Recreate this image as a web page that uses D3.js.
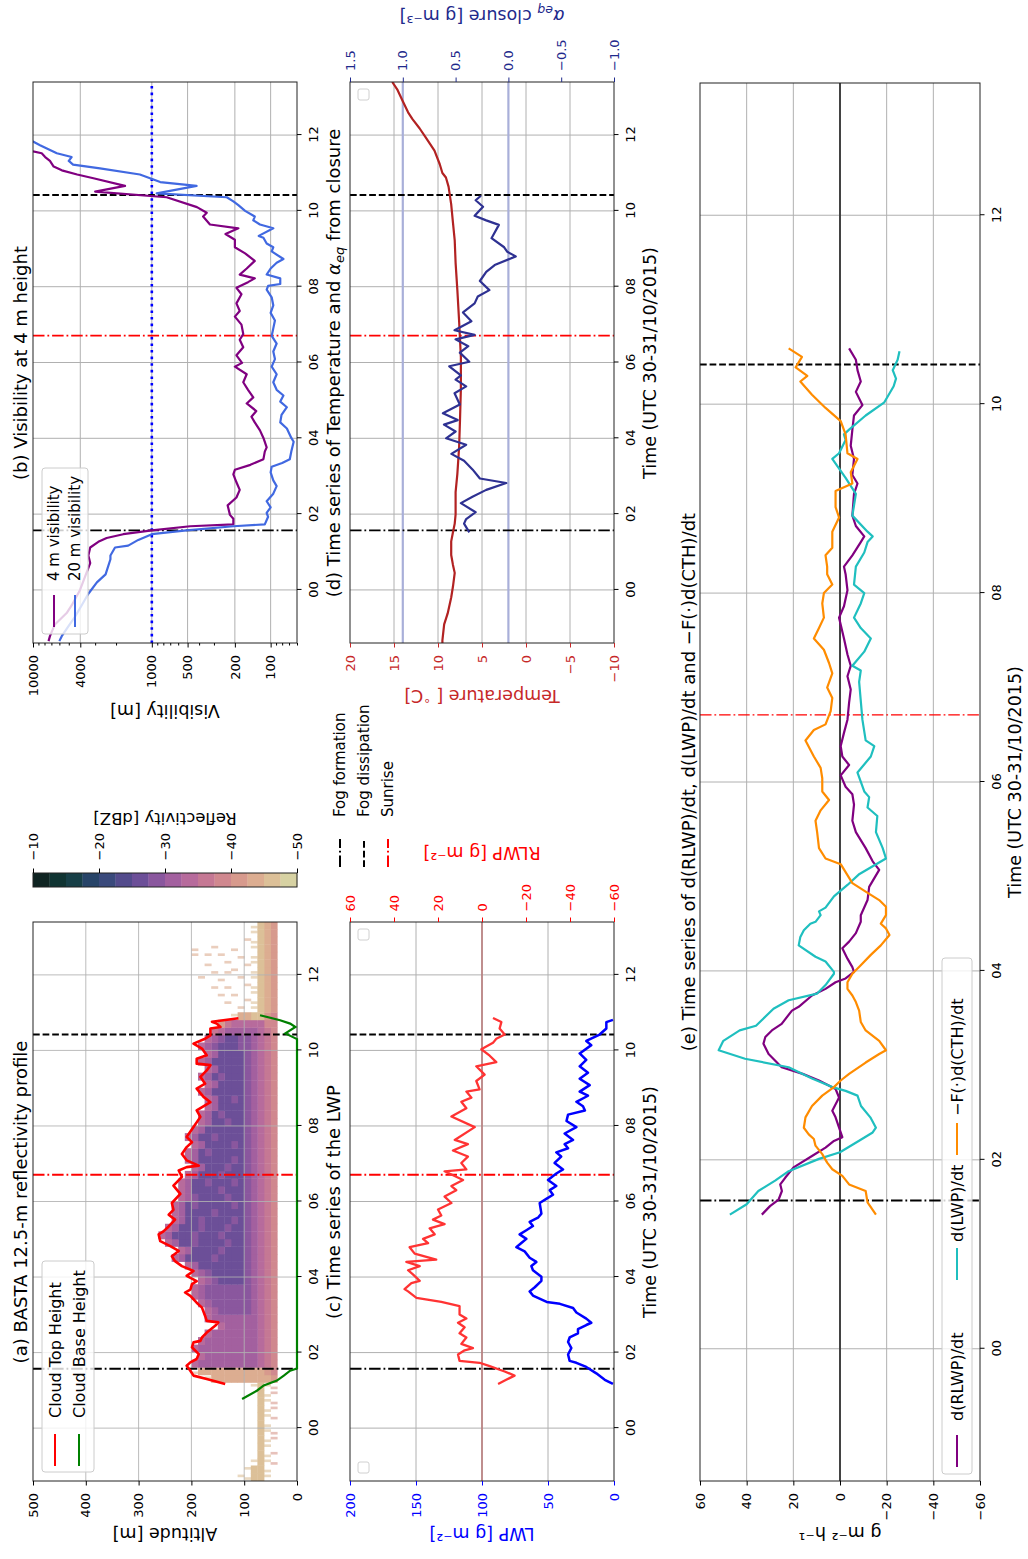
<!DOCTYPE html>
<html><head><meta charset="utf-8">
<script src="https://cdn.jsdelivr.net/npm/d3@7"></script>
<style>
html,body{margin:0;padding:0;background:#fff;}
svg{display:block;}
</style></head><body>
<svg id="fig" width="1028" height="1559"></svg>
<script>
// ---------------- DATA ----------------
const timeDomain = [-1.4, 13.4];
const timeTicks = [0, 2, 4, 6, 8, 10, 12];
const timeTickLabels = ["00", "02", "04", "06", "08", "10", "12"];
const eventTimes = [1.57, 10.42, 6.71];
const eventNames = ["Fog formation", "Fog dissipation", "Sunrise"];
const altTicks = [0, 100, 200, 300, 400, 500];
const visTicks = [100, 200, 500, 1000, 4000, 10000];
const visMinorTicks = [60, 70, 80, 90, 300, 400, 600, 700, 800, 900, 2000, 3000, 5000, 6000, 7000, 8000, 9000];
const lwpTicks = [0, 50, 100, 150, 200];
const rlwpTicks = [-60, -40, -20, 0, 20, 40, 60];
const tempTicks = [-10, -5, 0, 5, 10, 15, 20];
const alphaTicks = [-1.0, -0.5, 0.0, 0.5, 1.0, 1.5];
const alphaRefLines = [1.0, 0.0];
const rateTicks = [-60, -40, -20, 0, 20, 40, 60];
const dbzTicks = [-10, -20, -30, -40, -50];
const dbzEdges = [-10, -12.5, -15, -17.5, -20, -22.5, -25, -27.5, -30, -32.5, -35, -37.5, -40, -42.5, -45, -47.5, -50];
const dbzColors = ["#0f2422", "#103432", "#173f47", "#274468", "#3a4a7c", "#534b8c", "#6c4f98", "#8a579e",
                   "#a3609f", "#b76b9c", "#c57894", "#d0888f", "#d79a8d", "#dcad91", "#dcc098", "#d7d2a3"];

// reflectivity field: column time edges, altitude edges, per-column level codes (bottom->top)
// a..p = colour class 0..15 (-10 .. -50 dBZ), upper case = sparse echo, '.' = no echo
const reflTEdges = [-1.4,-1.2,-1.0,-0.8,-0.6,-0.4,-0.2,0.0,0.2,0.4,0.6,0.8,1.0,1.2,1.4,1.6,1.8,2.0,2.2,2.4,2.6,2.8,3.0,3.2,3.4,3.6,3.8,4.0,4.2,4.4,4.6,4.8,5.0,5.2,5.4,5.6,5.8,6.0,6.2,6.4,6.6,6.8,7.0,7.2,7.4,7.6,7.8,8.0,8.2,8.4,8.6,8.8,9.0,9.2,9.4,9.6,9.8,10.0,10.2,10.4,10.6,10.8,11.0,11.2,11.4,11.6,11.8,12.0,12.2,12.4,12.6,12.8,13.0,13.2,13.4];
const reflAltEdges = [37.5,50,62.5,75,87.5,100,112.5,125,137.5,150,162.5,175,187.5,200,212.5,225,237.5,250,262.5,275];
const reflCols = [
".OooOO",".OooO","MOoO","MOo",".Oo","MOo","MOo",".Oo","MOo","MOo","MOo","MOo","MOoO",
"mnnnnnnnnnO","lmnnnnnnnnnnN",
"lkjiiiiiiiiij","lkjiiiiiiiij","lkjiiiiiiiiij","lkjiiiiiiiij","lkjiiiiiiij","lkjiiiiij","lkjiiiiiiij",
"lkjihhhhhij","lkjihhhhhhij","lkjihhhhhhhij","lkjihhhhhhhij","lkjihgggghij","lkjihggggghij",
"lkjihgggggggij","lkjihgggghggggij","lkjihggghggggij","lkjihgghgggghggij","lkjihggghggghgggij",
"lkjihgghggghgggij","lkjihghgggghggij","lkjihgggghggggij","lkjihghggggghgij","lkjihgghgggghij",
"lkjihggghggggij","lkjihghggghggij","lkjihggghgggij","lkjihgghgggij","lkjihghgggggij","lkjihggggghgij",
"lkjihghggggij","lkjihgggghggij","lkjihggggggij","lkjihgghggij","lkjihggghgij","lkjihggggij",
"lkjihghggij","lkjihgggggij","lkjihggggij","lkjihggghgij","lkjihggggij","lkjihgggggij","lkjihggggij",
"lkjihhggghij","lkjihhgghij","lkjiiiiijk","lljjjjjkm",
"lmoonnO","mnoO.N","mnoON..N","mnoO..N.N","mnoON..N.N","mnoO.N..N..N","mnoO..NN.N","mnoON..N..N",
"mnoO.N..N.N.N","mnoO..N..N..N","mnoON","mnoO","mnoO"];

const cloudTop = [[1.17,136],[1.3,171],[1.39,196],[1.52,202],[1.65,209],[1.74,202],[1.83,190],[1.96,186],[2.14,199],[2.27,196],[2.31,183],[2.4,180],[2.53,171],[2.71,155],[2.8,149],[2.84,171],[2.97,174],[3.19,180],[3.32,190],[3.5,202],[3.59,212],[3.67,202],[3.81,199],[3.89,190],[4.03,209],[4.16,196],[4.29,218],[4.42,231],[4.55,237],[4.69,224],[4.82,240],[4.95,259],[5.13,262],[5.21,253],[5.34,243],[5.52,231],[5.65,243],[5.78,234],[5.96,237],[6.2,221],[6.42,234],[6.65,218],[6.82,224],[6.91,209],[6.95,186],[7.09,209],[7.26,218],[7.44,209],[7.57,199],[7.71,209],[7.97,196],[8.24,183],[8.41,190],[8.63,164],[8.77,177],[8.99,190],[9.12,174],[9.3,183],[9.47,171],[9.61,164],[9.65,190],[9.78,190],[9.87,171],[10.05,180],[10.18,196],[10.31,174],[10.4,164],[10.58,164],[10.62,145],[10.71,152],[10.76,161],[10.85,111]];
const cloudBase = [[0.77,104],[0.99,76],[1.13,63],[1.26,38],[1.39,25],[1.52,13],[1.58,0],[10.3,0],[10.45,22],[10.62,3],[10.71,13],[10.8,32],[10.93,70]];

const vis4m = [[-1.35,7400],[-1.22,7200],[-0.91,6540],[-0.61,5210],[-0.41,4730],[0,4020],[0.36,3640],[0.71,3300],[0.91,3420],[1.12,3300],[1.27,2820],[1.37,2400],[1.47,1740],[1.57,1000],[1.68,476],[1.73,206],[1.88,206],[1.98,220],[2.23,230],[2.44,194],[2.64,182],[2.84,194],[3.05,206],[3.17,200],[3.3,148],[3.45,115],[3.65,112],[3.76,108],[4.01,115],[4.21,123],[4.42,136],[4.57,145],[4.72,132],[4.92,159],[5.08,140],[5.28,155],[5.48,170],[5.69,159],[5.89,200],[5.99,174],[6.19,194],[6.4,170],[6.6,182],[6.75,170],[7.0,176],[7.21,200],[7.36,182],[7.56,194],[7.8,176],[7.97,194],[8.12,155],[8.22,136],[8.32,182],[8.48,159],[8.68,136],[8.88,164],[9.04,200],[9.24,200],[9.39,240],[9.54,187],[9.64,324],[9.85,370],[9.95,345],[10.1,417],[10.36,750],[10.51,3000],[10.66,1680],[10.86,3100],[10.96,4250],[11.07,5720],[11.17,6700],[11.32,7200],[11.42,7900],[11.52,8450],[11.57,10000],[11.7,13000]];
const vis20m = [[-1.35,6000],[-1.22,5730],[-0.96,5040],[-0.71,4440],[-0.41,3900],[-0.1,3420],[0.2,2900],[0.41,2450],[0.81,2230],[0.91,2230],[1.12,2040],[1.17,1580],[1.32,1300],[1.47,1000],[1.57,510],[1.68,206],[1.73,112],[1.93,105],[2.03,108],[2.18,100],[2.34,108],[2.54,95],[2.74,89],[2.89,95],[3.1,100],[3.25,98],[3.35,80],[3.45,69],[3.65,67],[3.91,64],[4.01,67],[4.26,73],[4.42,83],[4.62,81],[4.82,73],[4.97,83],[5.13,78],[5.28,89],[5.48,95],[5.69,89],[5.89,98],[6.09,92],[6.29,95],[6.5,89],[6.7,98],[6.9,95],[7.11,92],[7.31,100],[7.51,95],[7.72,98],[7.92,108],[8.02,105],[8.07,83],[8.22,83],[8.32,108],[8.48,100],[8.63,89],[8.73,78],[8.93,98],[9.04,95],[9.14,108],[9.29,115],[9.34,126],[9.54,95],[9.64,123],[9.75,140],[9.85,136],[10.0,164],[10.15,187],[10.25,206],[10.36,234],[10.46,910],[10.66,420],[10.76,850],[10.96,1260],[11.12,2730],[11.22,4600],[11.32,5000],[11.42,4730],[11.52,6300],[11.73,8730],[11.83,10000],[11.95,12500]];
const visThreshold = 1000;

const lwp = [[1.17,0.8],[1.28,7],[1.45,13.4],[1.62,21],[1.73,28.5],[1.78,33.6],[1.95,34.8],[2.12,32.3],[2.28,34.8],[2.4,33.6],[2.51,27.3],[2.62,27.3],[2.73,21],[2.79,17.2],[2.9,21],[3.06,28.5],[3.18,31],[3.29,41],[3.34,51],[3.51,61.4],[3.62,63.9],[3.73,60],[3.9,55],[4.01,55],[4.18,61.4],[4.29,62.6],[4.4,58.8],[4.51,63.9],[4.68,67.7],[4.79,74],[4.9,70.2],[5.01,66.4],[5.13,71.5],[5.24,66.4],[5.35,61.4],[5.46,63.9],[5.57,57.6],[5.68,55],[5.96,56.3],[6.07,51.3],[6.18,46.2],[6.3,48.7],[6.41,43.7],[6.57,50],[6.74,43.7],[6.85,38.6],[7.02,45],[7.19,40],[7.3,43.7],[7.41,34.8],[7.52,37.4],[7.63,31],[7.8,37.4],[7.97,28.5],[8.13,36],[8.3,34.8],[8.41,22],[8.52,23.5],[8.64,28.5],[8.8,19.7],[8.91,26],[9.08,18.4],[9.25,26],[9.41,19.7],[9.58,26],[9.75,21],[9.92,26],[10.14,17.2],[10.25,21],[10.42,10.9],[10.58,5.8],[10.75,5.8],[10.81,0.8]];
const rlwp = [[1.17,-7.3],[1.28,-11],[1.39,-14.8],[1.5,-10.3],[1.64,-3.5],[1.73,1.1],[1.78,10.2],[1.95,10.9],[2.06,7.9],[2.12,4.1],[2.23,9.4],[2.4,7.1],[2.51,10.2],[2.67,7.9],[2.79,10.9],[2.9,7.1],[3.01,10.2],[3.23,10.2],[3.34,18.5],[3.45,29.8],[3.62,33.6],[3.68,35.2],[3.84,32.1],[3.9,28.3],[4.07,31.4],[4.18,33.6],[4.29,28.3],[4.4,34.4],[4.46,20.8],[4.62,30.6],[4.79,32.9],[4.9,24.5],[5.01,26.8],[5.13,21.5],[5.29,23.8],[5.4,17],[5.52,22.3],[5.63,18.5],[5.79,20],[5.96,13.9],[6.13,17],[6.3,11.7],[6.41,13.9],[6.57,8.6],[6.8,17],[6.85,7.1],[7.02,9.4],[7.19,6.4],[7.35,13.2],[7.52,6.4],[7.63,12.4],[7.97,3.3],[8.25,13.9],[8.47,7.1],[8.64,9.4],[8.75,4.8],[8.91,7.1],[8.97,1.1],[9.19,2.6],[9.36,-1.2],[9.58,2.6],[9.69,-6.5],[9.86,-3.5],[10.03,0.3],[10.2,-5],[10.31,-6.5],[10.42,-10.3],[10.58,-8],[10.75,-8.8],[10.86,-5]];
const rlwpRefLine = 0;

const temperature = [[-1.4,9.5],[-1.33,9.5],[-0.91,9.3],[-0.62,8.9],[-0.2,8.5],[0.09,8.3],[0.45,8.1],[0.66,8.3],[0.92,8.5],[1.28,8.5],[1.52,8.3],[1.75,8.1],[1.99,8.0],[2.58,8.0],[3.06,7.8],[3.77,7.6],[4.48,7.5],[5.31,7.4],[6.14,7.4],[7.09,7.6],[7.91,7.8],[8.63,8.0],[9.22,8.1],[9.69,8.3],[10.17,8.5],[10.64,8.8],[10.88,9.1],[11.0,9.5],[11.23,9.8],[11.59,10.4],[11.94,11.4],[12.18,12.1],[12.42,12.9],[12.6,13.4],[12.89,14],[13.19,14.6],[13.4,15.2]];
const alphaEq = [[1.52,0.37],[1.75,0.42],[1.87,0.4],[2.05,0.31],[2.29,0.45],[2.46,0.34],[2.64,0.21],[2.82,0.02],[2.94,0.27],[3.18,0.34],[3.41,0.42],[3.59,0.54],[3.83,0.4],[4.0,0.59],[4.18,0.5],[4.36,0.61],[4.48,0.48],[4.66,0.62],[4.89,0.46],[5.19,0.51],[5.37,0.4],[5.55,0.5],[5.66,0.45],[5.9,0.56],[6.02,0.37],[6.26,0.46],[6.43,0.38],[6.61,0.5],[6.73,0.32],[6.85,0.51],[7.09,0.35],[7.32,0.43],[7.56,0.32],[7.74,0.29],[7.91,0.18],[8.15,0.27],[8.39,0.21],[8.57,0.13],[8.8,-0.07],[8.92,0.01],[9.04,0.04],[9.28,0.16],[9.63,0.09],[9.75,0.21],[9.87,0.32],[10.11,0.24],[10.28,0.31],[10.4,0.26]];

const dRlwpDt = [[1.42,33.5],[1.51,30],[1.58,26.3],[1.67,24.9],[1.74,25.6],[1.81,23.5],[1.92,19.9],[2.04,12],[2.13,6.2],[2.2,2.6],[2.24,-1],[2.34,0.4],[2.45,1.9],[2.52,3.3],[2.66,0.4],[2.75,1.9],[2.84,9],[2.91,16],[2.98,25],[3.12,30.6],[3.23,32.8],[3.3,32],[3.37,29.2],[3.44,25],[3.58,20.6],[3.62,17.7],[3.74,12],[3.81,6.2],[3.88,1.9],[3.92,-2.4],[3.99,-6],[4.04,-5.3],[4.13,-3.2],[4.24,-1],[4.31,-3.9],[4.4,-6.8],[4.52,-8.9],[4.59,-8.9],[4.75,-11.8],[4.89,-12.5],[5.07,-16.8],[5.16,-14],[5.3,-11],[5.47,-6.8],[5.59,-5.3],[5.76,-6],[5.87,-5.3],[5.95,-2.4],[6.07,-0.3],[6.18,-3.9],[6.27,-1],[6.38,-0.3],[6.52,-1.7],[6.66,-3.2],[6.84,-3.9],[6.98,-4.6],[7.12,-3.2],[7.23,-4.6],[7.35,-3.2],[7.52,-1.7],[7.74,0.4],[7.86,-1.7],[8.03,-3.2],[8.2,-2.4],[8.28,-1.7],[8.4,-5.3],[8.54,-8.9],[8.6,-10.4],[8.71,-6.8],[8.82,-5.3],[9.05,-6],[9.16,-7.5],[9.25,-5.3],[9.42,-6],[9.56,-4.6],[9.73,-5.3],[9.88,-6],[9.99,-9.6],[10.13,-6.8],[10.24,-8.9],[10.36,-7.5],[10.47,-6.8],[10.59,-3.9]];
const dLwpDt = [[1.42,47.2],[1.53,40],[1.67,35],[1.78,27.8],[1.88,22],[2.01,9],[2.08,0],[2.2,-8],[2.29,-14],[2.34,-15.4],[2.45,-13],[2.57,-9],[2.68,-7.5],[2.73,-2.4],[2.77,3.3],[2.86,12],[2.98,22],[3.07,40.7],[3.16,52],[3.26,50],[3.37,43],[3.42,36],[3.6,28.5],[3.69,22],[3.76,9.8],[3.85,6.2],[3.97,2.6],[3.99,2.6],[4.1,6.2],[4.15,10.5],[4.27,17.7],[4.36,17],[4.43,15.5],[4.5,12.7],[4.52,10.5],[4.59,8.3],[4.63,9],[4.67,6.2],[4.79,2.6],[4.91,-3.2],[5.02,-8],[5.19,-19.7],[5.3,-18.3],[5.47,-15.4],[5.64,-16],[5.73,-11.8],[5.84,-12.5],[5.9,-10.4],[6.1,-7.5],[6.27,-13.2],[6.38,-14.7],[6.44,-11],[6.66,-9.6],[7.06,-8.2],[7.18,-8.9],[7.23,-5.3],[7.38,-10.4],[7.52,-13.2],[7.63,-8.9],[7.74,-6],[7.89,-8.9],[8.0,-10.4],[8.09,-6],[8.28,-6.8],[8.43,-10.4],[8.54,-11.8],[8.6,-14],[8.65,-11.8],[8.82,-5.3],[9.05,-6.8],[9.22,-2.4],[9.42,3.3],[9.48,0.4],[9.62,-2.4],[9.68,-1.7],[9.73,-3.9],[9.88,-11],[10.02,-19],[10.19,-23],[10.27,-24],[10.36,-22.6],[10.47,-24.7],[10.56,-25.5]];
const fCthDt = [[1.42,-15.4],[1.55,-11.8],[1.67,-11],[1.74,-3.9],[1.83,-1],[1.9,3.3],[1.97,5.5],[2.06,7.6],[2.15,10.5],[2.22,11.2],[2.27,13.4],[2.34,15.5],[2.45,14.8],[2.57,12],[2.68,7.6],[2.77,2.6],[2.84,-0.3],[2.91,-3.9],[3.03,-11],[3.12,-16.8],[3.16,-19.7],[3.26,-16.8],[3.37,-11],[3.46,-8.9],[3.58,-8.2],[3.67,-6.8],[3.74,-5.3],[3.81,-3.2],[3.88,-3.2],[3.97,-5.3],[4.06,-8.9],[4.17,-13.2],[4.27,-17.5],[4.38,-21.2],[4.45,-19.7],[4.5,-17.5],[4.59,-19.7],[4.68,-19.7],[4.75,-16.8],[4.84,-11],[4.93,-5.3],[5.13,-0.3],[5.19,6.2],[5.3,9],[5.47,9.8],[5.59,10.5],[5.7,8.3],[5.81,4.7],[5.9,7.6],[6.04,7.6],[6.15,8.3],[6.27,11.2],[6.44,14.8],[6.55,11.2],[6.61,6.2],[6.75,4],[6.89,3.3],[7.0,5.5],[7.15,3.3],[7.26,4.7],[7.4,6.9],[7.52,11.2],[7.63,9],[7.74,6.9],[7.89,7.6],[8.0,6.9],[8.09,3.3],[8.2,5.5],[8.28,5.5],[8.4,6.2],[8.48,3.3],[8.65,3.3],[8.8,0.4],[8.91,1.9],[9.08,1.9],[9.16,-5.3],[9.28,-4.6],[9.42,-7.5],[9.48,-3.2],[9.68,-2.4],[9.82,-0.3],[9.96,6.2],[10.1,12],[10.24,17],[10.3,14],[10.39,19],[10.5,16.3],[10.59,22]];

// ---------------- DRAWING ----------------
const FONT = "'DejaVu Sans', sans-serif";
const TICK = 13, LABEL = 17.5, TITLE = 18;
const svg = d3.select("#fig");
svg.append("rect").attr("width", 1028).attr("height", 1559).attr("fill", "#fff");
const defs = svg.append("defs");
// landscape figure rotated a quarter turn counter-clockwise
const root = svg.append("g").attr("transform", "translate(0,1559) rotate(-90)");

const P = {
  a: {x0: 78, x1: 637, y0: 33, y1: 297},
  b: {x0: 916, x1: 1477, y0: 33, y1: 297},
  c: {x0: 78, x1: 637, y0: 350, y1: 614},
  d: {x0: 916, x1: 1477, y0: 350, y1: 614},
  e: {x0: 78, x1: 1476, y0: 700, y1: 980}
};
Object.entries(P).forEach(([k, p]) => {
  defs.append("clipPath").attr("id", "clip-" + k).append("rect")
    .attr("x", p.x0).attr("y", p.y0).attr("width", p.x1 - p.x0).attr("height", p.y1 - p.y0);
});

function styleAxis(a, color) {
  a.select(".domain").remove();
  a.selectAll("line").attr("stroke", color).attr("stroke-width", 1);
  a.selectAll("text").attr("fill", color).attr("font-size", TICK).attr("font-family", FONT);
  a.attr("font-family", FONT);
}
function timeAxis(p, xs) {
  const a = root.append("g").attr("transform", `translate(0,${p.y1})`)
    .call(d3.axisBottom(xs).tickValues(timeTicks).tickFormat((d, i) => timeTickLabels[i]).tickSizeOuter(0).tickSize(4.5).tickPadding(7));
  styleAxis(a, "#000");
}
function leftAxis(p, sc, ticks, fmt, color) {
  const a = root.append("g").attr("transform", `translate(${p.x0},0)`)
    .call(d3.axisLeft(sc).tickValues(ticks).tickFormat(fmt).tickSizeOuter(0).tickSize(4.5).tickPadding(7.5));
  styleAxis(a, color);
  return a;
}
function rightAxis(x, sc, ticks, fmt, color, pad) {
  const a = root.append("g").attr("transform", `translate(${x},0)`)
    .call(d3.axisRight(sc).tickValues(ticks).tickFormat(fmt).tickSizeOuter(0).tickSize(4.5).tickPadding(pad));
  styleAxis(a, color);
  return a;
}
function grid(p, xs, ys, yTicks, color) {
  const g = root.append("g").attr("stroke", color || "#b0b0b0").attr("stroke-width", 1);
  timeTicks.forEach(t => g.append("line").attr("x1", xs(t)).attr("x2", xs(t)).attr("y1", p.y0).attr("y2", p.y1));
  yTicks.forEach(v => {
    const y = ys(v);
    if (y > p.y0 + 1 && y < p.y1 - 1) g.append("line").attr("x1", p.x0).attr("x2", p.x1).attr("y1", y).attr("y2", y);
  });
  return g;
}
function frame(p) {
  root.append("rect").attr("x", p.x0).attr("y", p.y0).attr("width", p.x1 - p.x0).attr("height", p.y1 - p.y0)
    .attr("fill", "none").attr("stroke", "#222").attr("stroke-width", 1);
}
const eventStyles = [
  {c: "#000", dash: "11.5,2.9,1.8,2.9", w: 1.9},
  {c: "#000", dash: "6.7,2.9", w: 1.9},
  {c: "#ff0000", dash: "11.5,2.9,1.8,2.9", w: 1.9}
];
function events(p, xs, sunW) {
  eventTimes.forEach((t, i) => {
    const s = eventStyles[i];
    root.append("line").attr("x1", xs(t)).attr("x2", xs(t)).attr("y1", p.y0).attr("y2", p.y1)
      .attr("stroke", s.c).attr("stroke-width", (i === 2 && sunW) ? sunW : s.w).attr("stroke-dasharray", s.dash);
  });
}
function series(p, key, data, xs, ys, color, w) {
  root.append("path").datum(data).attr("clip-path", `url(#clip-${key})`)
    .attr("d", d3.line().x(d => xs(d[0])).y(d => ys(d[1])))
    .attr("fill", "none").attr("stroke", color).attr("stroke-width", w).attr("stroke-linejoin", "round");
}
function text(x, y, str, o = {}) {
  const t = root.append("text").attr("x", x).attr("y", y).text(str)
    .attr("font-size", o.size || TICK).attr("fill", o.fill || "#000")
    .attr("text-anchor", o.anchor || "middle").attr("font-family", FONT);
  if (o.rot) t.attr("transform", `rotate(${o.rot},${x},${y})`);
  return t;
}
function legendBox(x, y, w, h) {
  root.append("rect").attr("x", x).attr("y", y).attr("width", w).attr("height", h).attr("rx", 3)
    .attr("fill", "#fff").attr("fill-opacity", 0.8).attr("stroke", "#cccccc").attr("stroke-width", 1);
}
function legendEntry(x1, x2, y, color, label, size, tx, dash) {
  const l = root.append("line").attr("x1", x1).attr("x2", x2).attr("y1", y).attr("y2", y)
    .attr("stroke", color).attr("stroke-width", 2);
  if (dash) l.attr("stroke-dasharray", dash);
  text(tx, y, label, {size: size, anchor: "start"}).attr("dy", "0.36em");
}
function emptyLegend(x, y) {
  root.append("rect").attr("x", x).attr("y", y).attr("width", 11).attr("height", 11).attr("rx", 2)
    .attr("fill", "#fff").attr("stroke", "#d0d0d0").attr("stroke-width", 1);
}

// ---------- (a) reflectivity ----------
{
  const p = P.a;
  const xs = d3.scaleLinear().domain(timeDomain).range([p.x0, p.x1]);
  const ys = d3.scaleLinear().domain([0, 500]).range([p.y1, p.y0]);
  const cells = root.append("g").attr("clip-path", "url(#clip-a)");
  reflCols.forEach((col, i) => {
    const xa = xs(reflTEdges[i]), xb = xs(reflTEdges[i + 1]);
    for (let k = 0; k < col.length; k++) {
      const ch = col[k];
      if (ch === ".") continue;
      const faint = ch === ch.toUpperCase();
      const idx = ch.toLowerCase().charCodeAt(0) - 97;
      const ya = ys(reflAltEdges[k + 1]), yb = ys(reflAltEdges[k]);
      const w = xb - xa;
      // sparse echoes are drawn as thin streaks
      const x = faint ? xa + w * (0.15 + 0.35 * ((i + k) % 2)) : xa;
      const ww = faint ? w * 0.35 : w + 0.4;
      cells.append("rect").attr("x", x).attr("y", ya).attr("width", ww).attr("height", yb - ya + 0.4)
        .attr("fill", dbzColors[idx]).attr("opacity", faint ? 0.6 : 1);
    }
  });
  grid(p, xs, ys, altTicks).attr("stroke-opacity", 0.85);
  events(p, xs);
  series(p, "a", cloudTop, xs, ys, "#ff0000", 2.6);
  frame(p);
  root.append("path").datum(cloudBase).attr("d", d3.line().x(d => xs(d[0])).y(d => ys(d[1])))
    .attr("fill", "none").attr("stroke", "#008000").attr("stroke-width", 2.2);
  timeAxis(p, xs);
  leftAxis(p, ys, altTicks, d3.format("d"), "#000");
  text(357, 27, "(a) BASTA 12.5-m reflectivity profile", {size: TITLE});
  text(31, 165, "Altitude [m]", {size: LABEL, rot: -90});
  legendBox(87, 42, 211, 52);
  legendEntry(93, 125, 55, "#ff0000", "Cloud Top Height", 16, 141);
  legendEntry(93, 125, 79, "#008000", "Cloud Base Height", 16, 141);

  // colourbar
  const cs = d3.scaleLinear().domain([-50, -10]).range([297, 33]);
  dbzColors.forEach((c, i) => {
    root.append("rect").attr("x", 672).attr("y", cs(dbzEdges[i])).attr("width", 14)
      .attr("height", cs(dbzEdges[i + 1]) - cs(dbzEdges[i]) + 0.3).attr("fill", c);
  });
  root.append("rect").attr("x", 672).attr("y", 33).attr("width", 14).attr("height", 264)
    .attr("fill", "none").attr("stroke", "#222").attr("stroke-width", 1);
  rightAxis(686, cs, dbzTicks, d3.format("d"), "#000", 8);
  text(746, 165, "Reflectivity [dBZ]", {size: 16.5, rot: -90});
}

// ---------- (b) visibility ----------
{
  const p = P.b;
  const xs = d3.scaleLinear().domain(timeDomain).range([p.x0, p.x1]);
  const ys = d3.scaleLog().domain([60, 10000]).range([p.y1, p.y0]);
  grid(p, xs, ys, visTicks);
  root.append("line").attr("x1", p.x0).attr("x2", p.x1).attr("y1", ys(visThreshold)).attr("y2", ys(visThreshold))
    .attr("stroke", "#0000ff").attr("stroke-width", 2.6).attr("stroke-dasharray", "2.6,4");
  events(p, xs);
  series(p, "b", vis4m, xs, ys, "#800080", 2.2);
  series(p, "b", vis20m, xs, ys, "#4169e1", 2.2);
  frame(p);
  timeAxis(p, xs);
  leftAxis(p, ys, visTicks, d3.format("d"), "#000");
  const mn = root.append("g").attr("transform", `translate(${p.x0},0)`)
    .call(d3.axisLeft(ys).tickValues(visMinorTicks).tickFormat("").tickSizeOuter(0).tickSize(2.5));
  styleAxis(mn, "#000");
  text(1196, 27, "(b) Visibility at 4 m height", {size: TITLE});
  text(854, 165, "Visibility [m]", {size: LABEL, rot: -90});
  legendBox(925, 42, 166, 46);
  legendEntry(932, 964, 54, "#800080", "4 m visibility", 15, 978);
  legendEntry(932, 964, 75, "#4169e1", "20 m visibility", 15, 978);
}

// ---------- (c) LWP ----------
{
  const p = P.c;
  const xs = d3.scaleLinear().domain(timeDomain).range([p.x0, p.x1]);
  const ys = d3.scaleLinear().domain([0, 200]).range([p.y1, p.y0]);
  const yr = d3.scaleLinear().domain([-60, 60]).range([p.y1, p.y0]);
  grid(p, xs, ys, lwpTicks);
  root.append("line").attr("x1", p.x0).attr("x2", p.x1).attr("y1", yr(rlwpRefLine)).attr("y2", yr(rlwpRefLine))
    .attr("stroke", "#b97c7c").attr("stroke-width", 1.6);
  events(p, xs);
  series(p, "c", rlwp, xs, yr, "#ff3333", 2.3);
  series(p, "c", lwp, xs, ys, "#0000ff", 2.5);
  frame(p);
  timeAxis(p, xs);
  leftAxis(p, ys, lwpTicks, d3.format("d"), "#0000ff");
  rightAxis(p.x1, yr, rlwpTicks, d3.format("d"), "#ff0000", 6);
  emptyLegend(86, 358);
  emptyLegend(619, 358);
  text(357, 340, "(c) Time series of the LWP", {size: TITLE});
  text(357, 656, "Time (UTC 30-31/10/2015)", {size: LABEL});
  text(31, 482, "LWP [g m⁻²]", {size: LABEL, rot: -90, fill: "#0000ff"});
  text(712, 482, "RLWP [g m⁻²]", {size: LABEL, rot: -90, fill: "#ff0000"});
  // event legend
  eventNames.forEach((n, i) => {
    const s = eventStyles[i];
    legendEntry(692, 720, 340 + 24 * i, s.c, n, 15, 742, s.dash);
  });
}

// ---------- (d) temperature & alpha ----------
{
  const p = P.d;
  const xs = d3.scaleLinear().domain(timeDomain).range([p.x0, p.x1]);
  const ys = d3.scaleLinear().domain([-10, 20]).range([p.y1, p.y0]);
  const ya = d3.scaleLinear().domain([-1.0, 1.5]).range([p.y1, p.y0]);
  grid(p, xs, ys, tempTicks);
  alphaRefLines.forEach(v => root.append("line").attr("x1", p.x0).attr("x2", p.x1).attr("y1", ya(v)).attr("y2", ya(v))
    .attr("stroke", "#a9afd9").attr("stroke-width", 2.2));
  events(p, xs);
  series(p, "d", temperature, xs, ys, "#b22222", 2.2);
  series(p, "d", alphaEq, xs, ya, "#2e3192", 2.2);
  frame(p);
  timeAxis(p, xs);
  leftAxis(p, ys, tempTicks, d3.format("d"), "#c62828");
  rightAxis(p.x1, ya, alphaTicks, d3.format(".1f"), "#1f2a8c", 6.5);
  emptyLegend(1459, 358);
  const tt = text(1196, 340, "(d) Time series of Temperature and ", {size: TITLE});
  tt.append("tspan").attr("font-style", "italic").text("α");
  tt.append("tspan").attr("font-style", "italic").attr("font-size", 13).attr("dy", 4).text("eq");
  tt.append("tspan").attr("dy", -4).text(" from closure");
  text(1196, 656, "Time (UTC 30-31/10/2015)", {size: LABEL});
  const tl = text(869, 482, "Temperature [ ", {size: LABEL, rot: -90, fill: "#c62828"});
  tl.append("tspan").attr("font-size", 12).attr("dy", -7).text("∘");
  tl.append("tspan").attr("dy", 7).text("C]");
  const al = text(1549, 482, "", {size: LABEL, rot: -90, fill: "#1f2a8c"});
  al.append("tspan").attr("font-style", "italic").text("α");
  al.append("tspan").attr("font-style", "italic").attr("font-size", 12.5).attr("dy", 4).text("eq");
  al.append("tspan").attr("dy", -4).text(" closure [g m⁻³]");
}

// ---------- (e) tendencies ----------
{
  const p = P.e;
  const xs = d3.scaleLinear().domain(timeDomain).range([p.x0, p.x1]);
  const ys = d3.scaleLinear().domain([-60, 60]).range([p.y1, p.y0]);
  grid(p, xs, ys, rateTicks);
  root.append("line").attr("x1", p.x0).attr("x2", p.x1).attr("y1", ys(0)).attr("y2", ys(0))
    .attr("stroke", "#333").attr("stroke-width", 1.8);
  events(p, xs, 1.3);
  series(p, "e", dRlwpDt, xs, ys, "#800080", 2.2);
  series(p, "e", dLwpDt, xs, ys, "#1fbfbf", 2.2);
  series(p, "e", fCthDt, xs, ys, "#ff8c00", 2.2);
  frame(p);
  timeAxis(p, xs);
  leftAxis(p, ys, rateTicks, d3.format("d"), "#000");
  text(777, 695, "(e) Time series of d(RLWP)/dt, d(LWP)/dt and −F(·)d(CTH)/dt", {size: TITLE});
  text(777, 1021, "Time (UTC 30-31/10/2015)", {size: LABEL});
  text(32, 840, "g m⁻² h⁻¹", {size: LABEL, rot: -90});
  legendBox(85, 942, 516, 30);
  legendEntry(92, 124, 957, "#800080", "d(RLWP)/dt", 16, 138);
  legendEntry(279, 311, 957, "#1fbfbf", "d(LWP)/dt", 16, 317);
  legendEntry(404, 436, 957, "#ff8c00", "−F(·)d(CTH)/dt", 16, 443);
}
</script>
</body></html>
